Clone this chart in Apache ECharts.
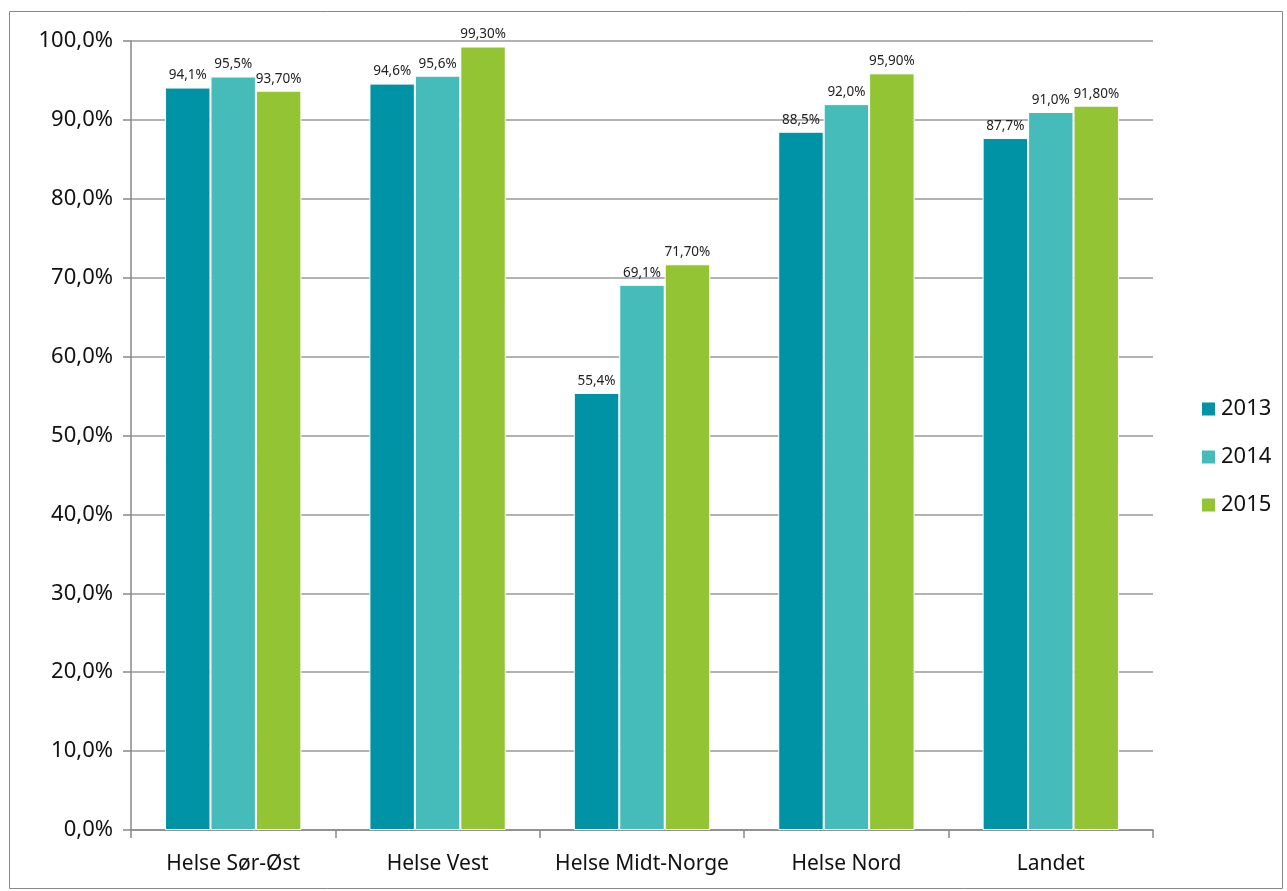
<!DOCTYPE html>
<html lang="no">
<head>
  <meta charset="UTF-8">
  <title>Andel</title>
  <style>
    html, body { margin: 0; padding: 0; background: #fff; }
  </style>
</head>
<body>
  <div class="wrapper" style="width:1287px;height:891px;"></div>

  <script src="https://cdn.jsdelivr.net/npm/echarts@6/dist/echarts.min.js"></script>
  <script>
    const regions = ['Helse Sør-Øst', 'Helse Vest', 'Helse Midt-Norge', 'Helse Nord', 'Landet']
    const years = ['2013', '2014', '2015']
    const v2013 = [94.1, 94.6, 55.4, 88.5, 87.7]
    const v2014 = [95.5, 95.6, 69.1, 92.0, 91.0]
    const v2015 = [93.7, 99.3, 71.7, 95.9, 91.8]
    const colors = ['#0093a6', '#46bcba', '#93c434']
    const decimals = [1, 1, 2]

    const font = '"Noto Sans", "Open Sans", sans-serif'
    const echart = echarts.init(document.querySelector('.wrapper'))

    const fmt = (v, d) => v.toFixed(d).replace('.', ',') + '%'

    const series = [v2013, v2014, v2015].map((vals, i) => ({
      name: years[i],
      type: 'bar',
      data: vals,
      barGap: '0%',
      barCategoryGap: '33.3%',
      itemStyle: { color: colors[i], borderColor: '#fff', borderWidth: 1 },
      label: {
        show: true,
        position: 'top',
        distance: 5,
        fontFamily: font,
        fontSize: 13.5,
        color: '#222',
        formatter: p => fmt(p.value, decimals[i])
      }
    }))

    const option = {
      animation: false,
      color: colors,
      graphic: [{
        type: 'rect',
        shape: { x: 9.5, y: 11.5, width: 1273, height: 877 },
        style: { fill: 'none', stroke: '#888', lineWidth: 1 },
        silent: true
      }],
      grid: { left: 131, right: 134, top: 41, bottom: 61 },
      legend: {
        orient: 'vertical',
        left: 1195,
        top: 393,
        itemWidth: 15,
        itemHeight: 15,
        itemGap: 26,
        icon: 'rect',
        textStyle: { fontFamily: font, fontSize: 22, lineHeight: 22, color: '#111' },
        data: years
      },
      xAxis: {
        type: 'category',
        data: regions,
        axisLine: { lineStyle: { color: '#888', width: 1.5 } },
        axisTick: { show: true, interval: 0, length: 8, lineStyle: { color: '#888', width: 1.5 } },
        axisLabel: { interval: 0, fontFamily: font, fontSize: 21, color: '#111', margin: 24 }
      },
      yAxis: {
        type: 'value',
        min: 0,
        max: 100,
        interval: 10,
        axisLine: { show: true, lineStyle: { color: '#888', width: 1.5 } },
        axisTick: { show: true, length: 8, lineStyle: { color: '#888', width: 1.5 } },
        axisLabel: {
          fontFamily: font, fontSize: 22, color: '#111', margin: 18,
          formatter: v => v.toFixed(1).replace('.', ',') + '%'
        },
        splitLine: { lineStyle: { color: '#999', width: 1.5 } }
      },
      series: series
    }

    echart.setOption(option)
  </script>
</body>
</html>
